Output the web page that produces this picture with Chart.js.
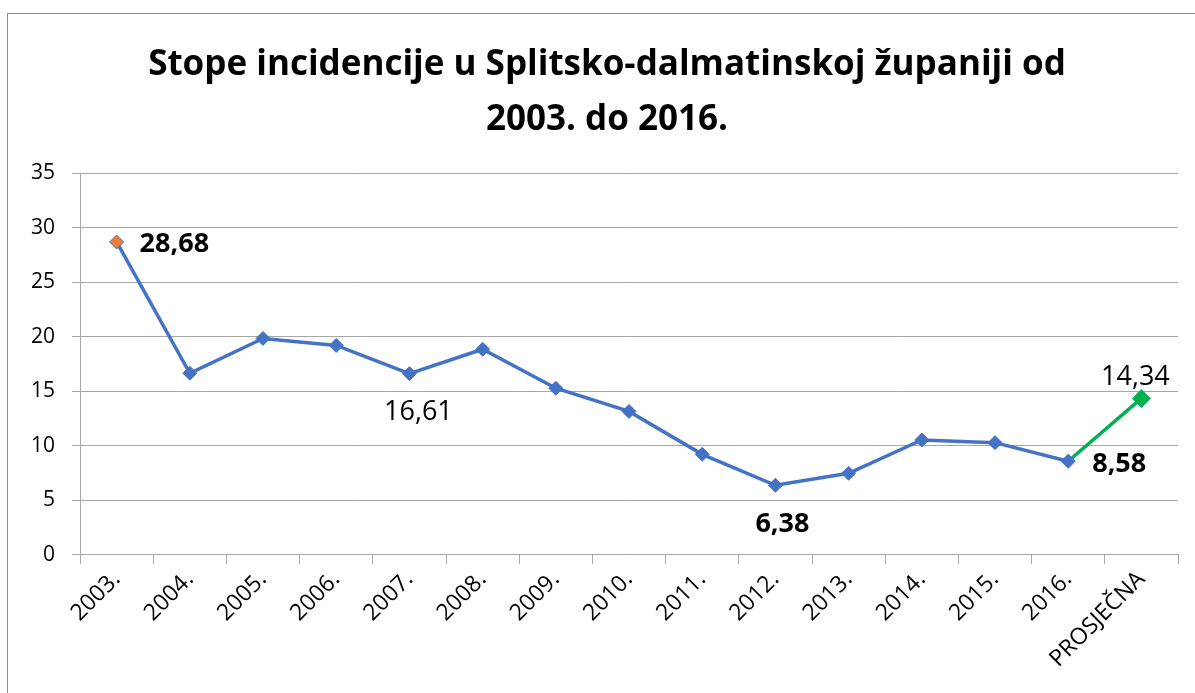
<!DOCTYPE html>
<html lang="hr">
  <head>
    <meta charset="UTF-8" />
    <title>Stope incidencije</title>
    <style>
      html, body { margin: 0; padding: 0; background: #fff; overflow: hidden; }
      .frame {
        position: absolute;
        left: 7px;
        top: 13px;
        width: 1300px;
        height: 800px;
        border-left: 1px solid #8c8c8c;
        border-top: 1px solid #8c8c8c;
      }
      .chart-box {
        position: absolute;
        left: 0;
        top: 0;
        width: 1195px;
        height: 693px;
      }
    </style>
  </head>
  <body>
    <div class="frame"></div>
    <div class="chart-box">
      <canvas id="mychart"></canvas>
    </div>

    <script src="https://cdn.jsdelivr.net/npm/chart.js@4/dist/chart.umd.min.js"></script>
    <script>
      // godine + prosjek
      const categories = ["2003.", "2004.", "2005.", "2006.", "2007.", "2008.", "2009.",
        "2010.", "2011.", "2012.", "2013.", "2014.", "2015.", "2016.", "PROSJEČNA"];
      // stope incidencije po godinama (zadnja = prosjek, crta se zelenom)
      const rates = [28.68, 16.65, 19.84, 19.2, 16.61, 18.85, 15.28,
        13.15, 9.22, 6.38, 7.48, 10.53, 10.29, 8.58, null];
      const average = [null, null, null, null, null, null, null,
        null, null, null, null, null, null, 8.58, 14.34];
      const yTicks = [0, 5, 10, 15, 20, 25, 30, 35];
      const titleLines = ["Stope incidencije u Splitsko-dalmatinskoj županiji od", "2003. do 2016."];

      const FONT = "'Open Sans', 'Noto Sans', sans-serif";

      // oznake vrijednosti: [dataset, indeks, podebljano, pomak x, pomak y, poravnanje]
      const valueLabels = [
        [0, 0, true, 23, 2, "left"],
        [0, 4, false, 9, 39, "center"],
        [0, 9, true, 7, 39, "center"],
        [0, 13, true, 24, 3, "left"],
        [1, 14, false, -6, -21, "center"],
      ];

      const labelPlugin = {
        id: "valueLabels",
        afterDatasetsDraw(chart) {
          const ctx = chart.ctx;
          ctx.save();
          ctx.fillStyle = "#000";
          ctx.textBaseline = "middle";
          valueLabels.forEach(([ds, i, bold, dx, dy, align]) => {
            const pt = chart.getDatasetMeta(ds).data[i];
            const v = chart.data.datasets[ds].data[i];
            ctx.font = (bold ? "bold " : "") + "27px " + FONT;
            ctx.textAlign = align;
            ctx.fillText(v.toFixed(2).replace(".", ","), pt.x + dx, pt.y + dy);
          });
          ctx.restore();
        },
      };

      // naslov crtam sam jer je malo pomaknut udesno u odnosu na sredinu
      const titlePlugin = {
        id: "bigTitle",
        afterDraw(chart) {
          const ctx = chart.ctx;
          ctx.save();
          ctx.fillStyle = "#000";
          ctx.font = "bold 35px " + FONT;
          ctx.textAlign = "center";
          ctx.textBaseline = "alphabetic";
          titleLines.forEach((t, i) => ctx.fillText(t, 607, 75 + i * 55));
          ctx.restore();
        },
      };

      const blue = "#4472C4";
      const green = "#00B050";
      const orange = "#ED7D31";

      new Chart(document.getElementById("mychart"), {
        type: "line",
        data: {
          labels: categories,
          datasets: [
            {
              label: "Stopa",
              data: rates,
              borderColor: blue,
              borderWidth: 3.5,
              pointStyle: "rectRot",
              pointRadius: 7,
              pointBorderWidth: 1,
              pointBorderColor: blue,
              pointBackgroundColor: rates.map((v, i) => (i === 0 ? orange : blue)),
              tension: 0,
              spanGaps: false,
            },
            {
              label: "Prosjek",
              data: average,
              borderColor: green,
              borderWidth: 3.5,
              pointStyle: "rectRot",
              pointRadius: average.map((v, i) => (i === 14 ? 7 : 0)),
              pointBackgroundColor: green,
              pointBorderColor: green,
              tension: 0,
            },
          ],
        },
        options: {
          responsive: true,
          maintainAspectRatio: false,
          animation: false,
          layout: { padding: { left: 14, right: 17, top: 173, bottom: 18 } },
          plugins: {
            legend: { display: false },
            tooltip: { enabled: false },
            title: { display: false },
          },
          scales: {
            x: {
              offset: true,
              grid: {
                offset: true,
                drawOnChartArea: false,
                drawTicks: true,
                tickLength: 9,
                color: "#a6a6a6",
              },
              border: { color: "#a6a6a6", width: 1 },
              ticks: {
                color: "#000",
                font: { family: FONT, size: 23 },
                minRotation: 45,
                maxRotation: 45,
                autoSkip: false,
                padding: 2,
              },
            },
            y: {
              min: 0,
              max: 35,
              afterBuildTicks(axis) {
                axis.ticks = yTicks.map((v) => ({ value: v }));
              },
              grid: { color: "#a6a6a6", tickLength: 8 },
              border: { color: "#a6a6a6", width: 1 },
              ticks: {
                color: "#000",
                font: { family: FONT, size: 21 },
                padding: 17,
              },
            },
          },
        },
        plugins: [labelPlugin, titlePlugin],
      });
    </script>
  </body>
</html>
